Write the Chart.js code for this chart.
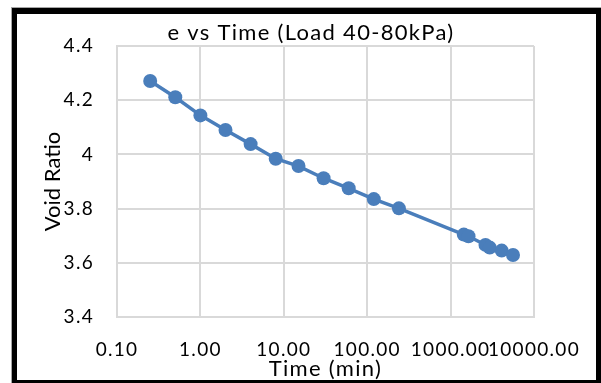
<!DOCTYPE html>
<html>
<head>
<meta charset="utf-8">
<script src="https://cdn.jsdelivr.net/npm/chart.js@4/dist/chart.umd.min.js"></script>
<style>
  html, body { margin: 0; padding: 0; background: #fff; }
  #wrap { position: relative; width: 601px; height: 383px; overflow: hidden; }
  #c { position: absolute; left: 0; top: 0; }
  #frame {
    position: absolute; left: 12px; top: 8px; width: 589px; height: 375px;
    box-sizing: border-box; border-style: solid; border-color: #000;
    border-width: 6px 5px 3px 5px; outline: 1px solid #a6a6a6; pointer-events: none;
  }
</style>
</head>
<body>
<div id="wrap">
  <canvas id="c" width="601" height="383"></canvas>
  <div id="frame"></div>
</div>
<script>
// ---- data ----
const timeMin   = [0.25, 0.5, 1, 2, 4, 8, 15, 30, 60, 120, 240, 1440, 1640, 2620, 2950, 4100, 5600];
const voidRatio = [4.271, 4.211, 4.144, 4.090, 4.038, 3.984, 3.957, 3.912, 3.875, 3.835, 3.801, 3.704, 3.698, 3.666, 3.656, 3.645, 3.629];
const xTickValues = [0.1, 1, 10, 100, 1000, 10000];
const yTickValues = [3.4, 3.6, 3.8, 4.0, 4.2, 4.4];
const chartTitle = 'e vs Time (Load 40-80kPa)';
const xAxisTitle = 'Time (min)';
const yAxisTitle = 'Void Ratio';

const points = timeMin.map((t, i) => ({ x: t, y: voidRatio[i] }));
const FONT = 'Lato';
const blue = '#4A7EBB';
const gridGray = '#d9d9d9';
const SPACING = '1.3px';

// Excel-like loose letter spacing for canvas text
const spacingPlugin = {
  id: 'spacing',
  beforeLayout(chart) {
    chart.ctx.letterSpacing = SPACING;
    const ys = chart.scales.y;
    if (ys && !ys._wrappedTitle) {
      const orig = ys.drawTitle.bind(ys);
      ys.drawTitle = function () {
        const ctx = this.ctx;
        const prev = ctx.letterSpacing;
        ctx.letterSpacing = '0px';
        orig();
        ctx.letterSpacing = prev;
      };
      ys._wrappedTitle = true;
    }
  },
  beforeDraw(chart) { chart.ctx.letterSpacing = SPACING; }
};

new Chart(document.getElementById('c'), {
  type: 'line',
  data: {
    datasets: [{
      data: points,
      borderColor: blue,
      backgroundColor: blue,
      borderWidth: 3.5,
      pointRadius: 7,
      pointBackgroundColor: blue,
      pointBorderWidth: 0,
      tension: 0,
      fill: false
    }]
  },
  plugins: [spacingPlugin],
  options: {
    responsive: false,
    animation: false,
    devicePixelRatio: 1,
    layout: { padding: { left: 21, right: 0, top: 0, bottom: 0 } },
    plugins: {
      legend: { display: false },
      tooltip: { enabled: false },
      title: {
        display: true,
        text: chartTitle,
        color: '#000',
        font: { family: FONT, size: 22, weight: 'normal' },
        padding: { top: 19.3, bottom: 0.3 }
      }
    },
    scales: {
      x: {
        type: 'logarithmic',
        position: 'bottom',
        min: 0.1,
        max: 10000,
        afterBuildTicks: s => { s.ticks = xTickValues.map(v => ({ value: v })); },
        afterFit: s => { s.height = 66; },
        grid: { color: gridGray, lineWidth: 2, drawTicks: false },
        border: { color: gridGray, width: 2 },
        ticks: {
          autoSkip: false, maxRotation: 0, minRotation: 0,
          padding: 21, color: '#000',
          font: { family: FONT, size: 19 },
          callback: v => Number(v).toFixed(2)
        },
        title: {
          display: true, text: xAxisTitle, color: '#000',
          font: { family: FONT, size: 22 },
          padding: { top: 0, bottom: 1.3 }
        }
      },
      y: {
        type: 'linear',
        position: 'left',
        min: 3.4,
        max: 4.4,
        afterBuildTicks: s => { s.ticks = yTickValues.map(v => ({ value: v })); },
        afterFit: s => { s.width = 96; },
        grid: { color: gridGray, lineWidth: 2, drawTicks: false },
        border: { color: gridGray, width: 2 },
        ticks: {
          padding: 23, color: '#000',
          font: { family: FONT, size: 19 },
          callback: v => String(Number(Number(v).toFixed(1)))
        },
        title: {
          display: true, text: yAxisTitle, color: '#000',
          font: { family: FONT, size: 22 },
          padding: { top: 18.5, bottom: 0 }
        }
      },
      yRightSpacer: {
        type: 'linear',
        position: 'right',
        display: true,
        afterFit: s => { s.width = 61; },
        grid: { display: false, drawTicks: false },
        border: { display: false },
        ticks: { display: false },
        title: { display: false }
      }
    }
  }
});
</script>
</body>
</html>
